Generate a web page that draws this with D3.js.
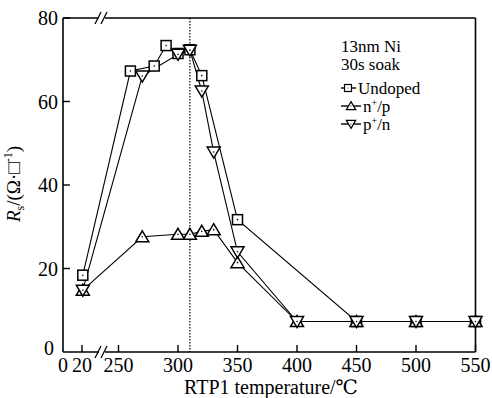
<!DOCTYPE html>
<html>
<head>
<meta charset="utf-8">
<script src="https://cdn.jsdelivr.net/npm/d3@7"></script>
<style>
  body { margin: 0; background: #fff; }
  svg text { font-family: "Liberation Serif", "Times New Roman", "DejaVu Serif", serif; fill: #000; }
</style>
</head>
<body>
<div id="chart"></div>
<script>
// Data
const undopedT = [25, 260, 280, 290, 300, 310, 320, 350, 450, 500, 550];
const undopedR = [18.4, 67.3, 68.5, 73.4, 71.5, 72.4, 66.2, 31.7, 7.3, 7.3, 7.3];

const nT = [25, 270, 300, 310, 320, 330, 350, 400, 450, 500, 550];
const nR = [14.8, 27.6, 28.2, 28.2, 28.9, 29.3, 21.4, 7.3, 7.3, 7.3, 7.3];

const pT = [25, 270, 300, 310, 320, 330, 350, 400, 450, 500, 550];
const pR = [14.8, 66.1, 71.3, 72.3, 62.5, 47.9, 24, 7.3, 7.3, 7.3, 7.3];

const xTicks = [20, 250, 300, 350, 400, 450, 500, 550];
const yTicks = [20, 40, 60, 80];

const W = 492, H = 398;
const svg = d3.select("#chart").append("svg")
  .attr("width", W).attr("height", H)
  .attr("font-family", "Liberation Serif, Times New Roman, DejaVu Serif, serif");

// broken x axis: 0-20 compressed, then 250-550
const x = d3.scaleLinear().domain([0, 20, 250, 550]).range([63, 82, 118.5, 475.5]);
const y = d3.scaleLinear().domain([0, 80]).range([352, 18]);

const x0 = x(0), x1 = x(550), y0 = y(0), y1 = y(80);
const brk = 101; // break position on the x axis

// Frame with breaks
const frame = svg.append("g").attr("stroke", "#000").attr("stroke-width", 1.6).attr("fill", "none");
frame.append("line").attr("x1", x0).attr("y1", y0).attr("x2", x0).attr("y2", y1);
frame.append("line").attr("x1", x1).attr("y1", y0).attr("x2", x1).attr("y2", y1);
[y0, y1].forEach(yy => {
  frame.append("line").attr("x1", x0).attr("y1", yy).attr("x2", brk - 2).attr("y2", yy);
  frame.append("line").attr("x1", brk + 4).attr("y1", yy).attr("x2", x1).attr("y2", yy);
  [-3, 3].forEach(o => {
    frame.append("line")
      .attr("x1", brk + o - 3).attr("y1", yy + 6)
      .attr("x2", brk + o + 3).attr("y2", yy - 6)
      .attr("stroke-width", 1.3);
  });
});

// X ticks (inside) and labels
svg.append("g").selectAll("line").data(xTicks).join("line")
  .attr("x1", d => x(d)).attr("x2", d => x(d))
  .attr("y1", y0).attr("y2", y0 - 7)
  .attr("stroke", "#000").attr("stroke-width", 1.4);
svg.append("g").selectAll("text").data([0].concat(xTicks)).join("text")
  .attr("x", d => x(d)).attr("y", y0 + 20)
  .attr("text-anchor", "middle").attr("font-size", 20)
  .text(d => d);

// Y ticks (inside) and labels
svg.append("g").selectAll("line").data(yTicks).join("line")
  .attr("x1", x0).attr("x2", x0 + 7)
  .attr("y1", d => y(d)).attr("y2", d => y(d))
  .attr("stroke", "#000").attr("stroke-width", 1.4);
svg.append("g").selectAll("text").data(yTicks).join("text")
  .attr("x", x0 - 5).attr("y", d => y(d) + 7)
  .attr("text-anchor", "end").attr("font-size", 20)
  .text(d => d);
svg.append("text").attr("x", x0 - 9).attr("y", y0 + 3)
  .attr("text-anchor", "end").attr("font-size", 20).text("0");

// Dotted reference line at 310 C
svg.append("line")
  .attr("x1", x(310)).attr("x2", x(310)).attr("y1", y1).attr("y2", y0)
  .attr("stroke", "#000").attr("stroke-width", 1.2).attr("stroke-dasharray", "1.5,1.5");

// Axis titles
svg.append("text").attr("x", 271).attr("y", 394).attr("text-anchor", "middle")
  .attr("font-size", 20).text("RTP1 temperature/\u2103");

const yl = svg.append("text").attr("transform", "translate(20,184) rotate(-90)")
  .attr("text-anchor", "middle").attr("font-size", 19);
yl.append("tspan").attr("font-style", "italic").text("R");
yl.append("tspan").attr("font-size", 12).attr("dy", 4).text("s");
yl.append("tspan").attr("dy", -4).text("/(\u03A9\u00B7\u25A1");
yl.append("tspan").attr("font-size", 12).attr("dy", -8).text("-1");
yl.append("tspan").attr("dy", 8).text(")");

// Markers
function marker(g, kind, cx, cy, s = 1) {
  if (kind === "square") {
    g.append("rect").attr("x", cx - 5 * s).attr("y", cy - 5 * s)
      .attr("width", 10 * s).attr("height", 10 * s);
  } else if (kind === "up") {
    g.append("path").attr("d", `M${cx},${cy - 6 * s}L${cx + 6.5 * s},${cy + 5 * s}L${cx - 6.5 * s},${cy + 5 * s}Z`);
  } else {
    g.append("path").attr("d", `M${cx},${cy + 6 * s}L${cx + 6.5 * s},${cy - 5 * s}L${cx - 6.5 * s},${cy - 5 * s}Z`);
  }
  g.append("circle").attr("cx", cx).attr("cy", cy).attr("r", 0.8 * s).attr("fill", "#000").attr("stroke", "none");
}

const series = [
  { t: undopedT, r: undopedR, kind: "square" },
  { t: nT, r: nR, kind: "up" },
  { t: pT, r: pR, kind: "down" }
];

const line = d3.line().x(d => x(d[0])).y(d => y(d[1]));
series.forEach(s => {
  const pts = s.t.map((t, i) => [t, s.r[i]]);
  svg.append("path").datum(pts).attr("d", line)
    .attr("fill", "none").attr("stroke", "#000").attr("stroke-width", 1.1);
});
series.forEach(s => {
  const g = svg.append("g").attr("fill", "#fff").attr("stroke", "#000").attr("stroke-width", 1.5);
  s.t.forEach((t, i) => marker(g, s.kind, x(t), y(s.r[i])));
});

// Annotation
svg.append("text").attr("x", 341).attr("y", 52).attr("font-size", 17).text("13nm Ni");
svg.append("text").attr("x", 341).attr("y", 70).attr("font-size", 17).text("30s soak");

// Legend
const leg = [
  { kind: "square", y: 88, x2: 356, label: [["Undoped", 0]] },
  { kind: "up", y: 106, x2: 361, label: [["n", 0], ["+", -6], ["/p", 6]] },
  { kind: "down", y: 124, x2: 361, label: [["p", 0], ["+", -6], ["/n", 6]] }
];
leg.forEach(l => {
  svg.append("line").attr("x1", 341).attr("x2", l.x2).attr("y1", l.y).attr("y2", l.y)
    .attr("stroke", "#000").attr("stroke-width", 1.4);
  const g = svg.append("g").attr("fill", "#fff").attr("stroke", "#000").attr("stroke-width", 1.2);
  if (l.kind === "square") marker(g, l.kind, 348, l.y, 0.7);
  else marker(g, l.kind, 351, l.y, 0.72);
  const tx = svg.append("text").attr("x", l.x2 + 2).attr("y", l.y + 5.5).attr("font-size", 17);
  l.label.forEach(([s, dy]) => {
    const ts = tx.append("tspan").attr("dy", dy).text(s);
    if (s === "+") ts.attr("font-size", 10);
  });
});
</script>
</body>
</html>
